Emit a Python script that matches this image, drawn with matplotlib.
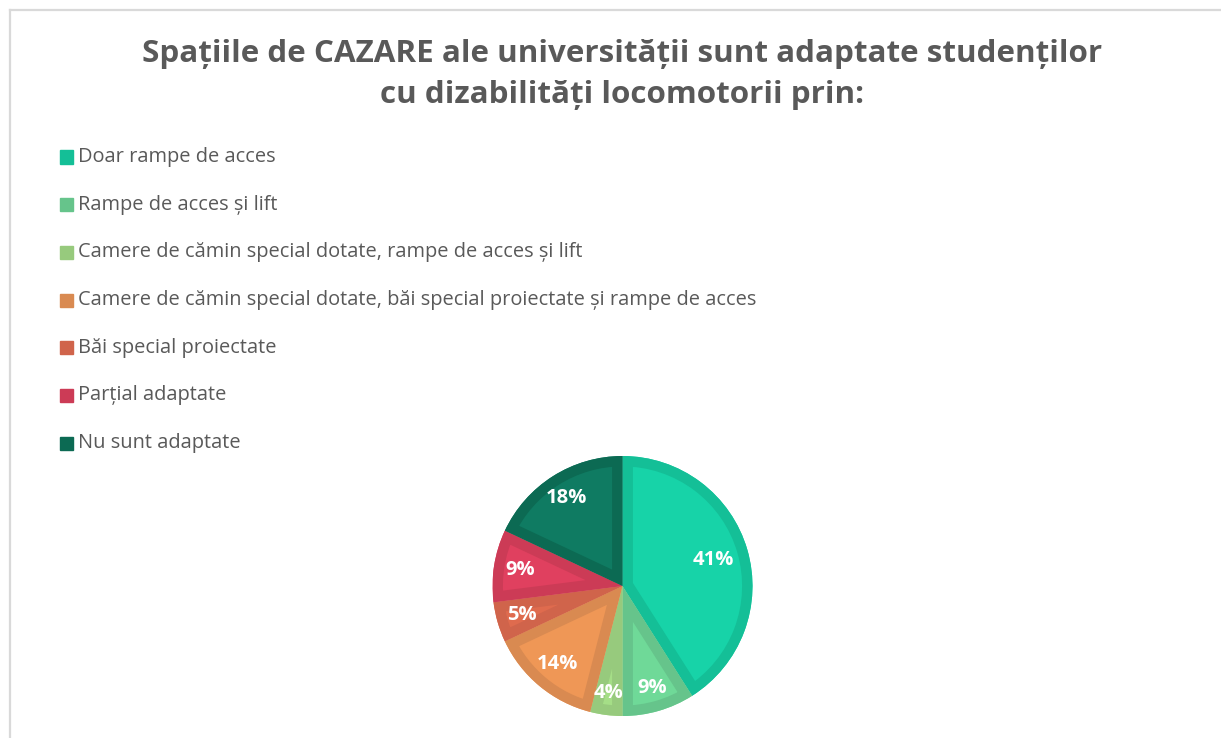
import numpy as np
import matplotlib.pyplot as plt
from matplotlib.patches import Rectangle, PathPatch
from matplotlib.lines import Line2D

# Response categories and their shares (%)
categories = [
    "Doar rampe de acces",
    "Rampe de acces și lift",
    "Camere de cămin special dotate, rampe de acces și lift",
    "Camere de cămin special dotate, băi special proiectate și rampe de acces",
    "Băi special proiectate",
    "Parțial adaptate",
    "Nu sunt adaptate",
]
shares = [41, 9, 4, 14, 5, 9, 18]

# slice fill, slice rim / legend swatch
fill_colors = ["#17D3A8", "#6FD998", "#A5DE87", "#EF9756", "#DF6B4E", "#E0405F", "#0F7B62"]
rim_colors = ["#14BF97", "#66C48B", "#97CA7D", "#D98A51", "#D0644B", "#CC3B56", "#0C6A53"]
label_radius = [0.73, 0.82, 0.83, 0.78, 0.81, 0.80, 0.80]

title = "Spațiile de CAZARE ale universității sunt adaptate studenților\ncu dizabilități locomotorii prin:"

W, H = 1221, 738
fig = plt.figure(figsize=(W / 100, H / 100), dpi=100)
fig.patch.set_facecolor("white")

# chart area frame (top and left edges only)
fig.add_artist(Line2D([10 / W, 1.0], [1 - 10 / H, 1 - 10 / H], color="#D9D9D9", lw=1.6))
fig.add_artist(Line2D([10 / W, 10 / W], [0.0, 1 - 10 / H], color="#D9D9D9", lw=1.6))

fig.text(622 / W, 1 - 74.5 / H, title, ha="center", va="center", fontsize=22.6,
         fontweight="bold", color="#595959", family="Open Sans", linespacing=1.52)

# legend
row_y = 157
for i, (name, col) in enumerate(zip(categories, rim_colors)):
    y = row_y + i * 47.7
    fig.add_artist(Rectangle((60 / W, 1 - (y + 6.5) / H), 13 / W, 13 / H,
                             transform=fig.transFigure, color=col))
    fig.text(78 / W, 1 - y / H, name, ha="left", va="center", fontsize=14.4,
             color="#595959", family="Open Sans")

# pie
cx, cy, r = 622.5, 586, 130
ax = fig.add_axes([(cx - r) / W, (H - cy - r) / H, 2 * r / W, 2 * r / H])
wedges, _ = ax.pie(shares, colors=fill_colors, startangle=90, counterclock=False,
                   wedgeprops=dict(linewidth=0))
ax.set_xlim(-1, 1)
ax.set_ylim(-1, 1)
ax.set_aspect("equal")
ax.axis("off")

# inner rim on every slice: a thick edge clipped to the slice itself
for w, rc in zip(wedges, rim_colors):
    rim = ax.add_patch(PathPatch(w.get_path(), fill=False, edgecolor=rc,
                                 linewidth=15, transform=w.get_transform()))
    rim.set_clip_path(w)

for w, v, lr in zip(wedges, shares, label_radius):
    mid = np.deg2rad((w.theta1 + w.theta2) / 2)
    ax.text(lr * np.cos(mid), lr * np.sin(mid), f"{v}%", ha="center", va="center",
            fontsize=14.5, fontweight="bold", color="white", family="Open Sans")

fig.savefig("out.png", dpi=100)
